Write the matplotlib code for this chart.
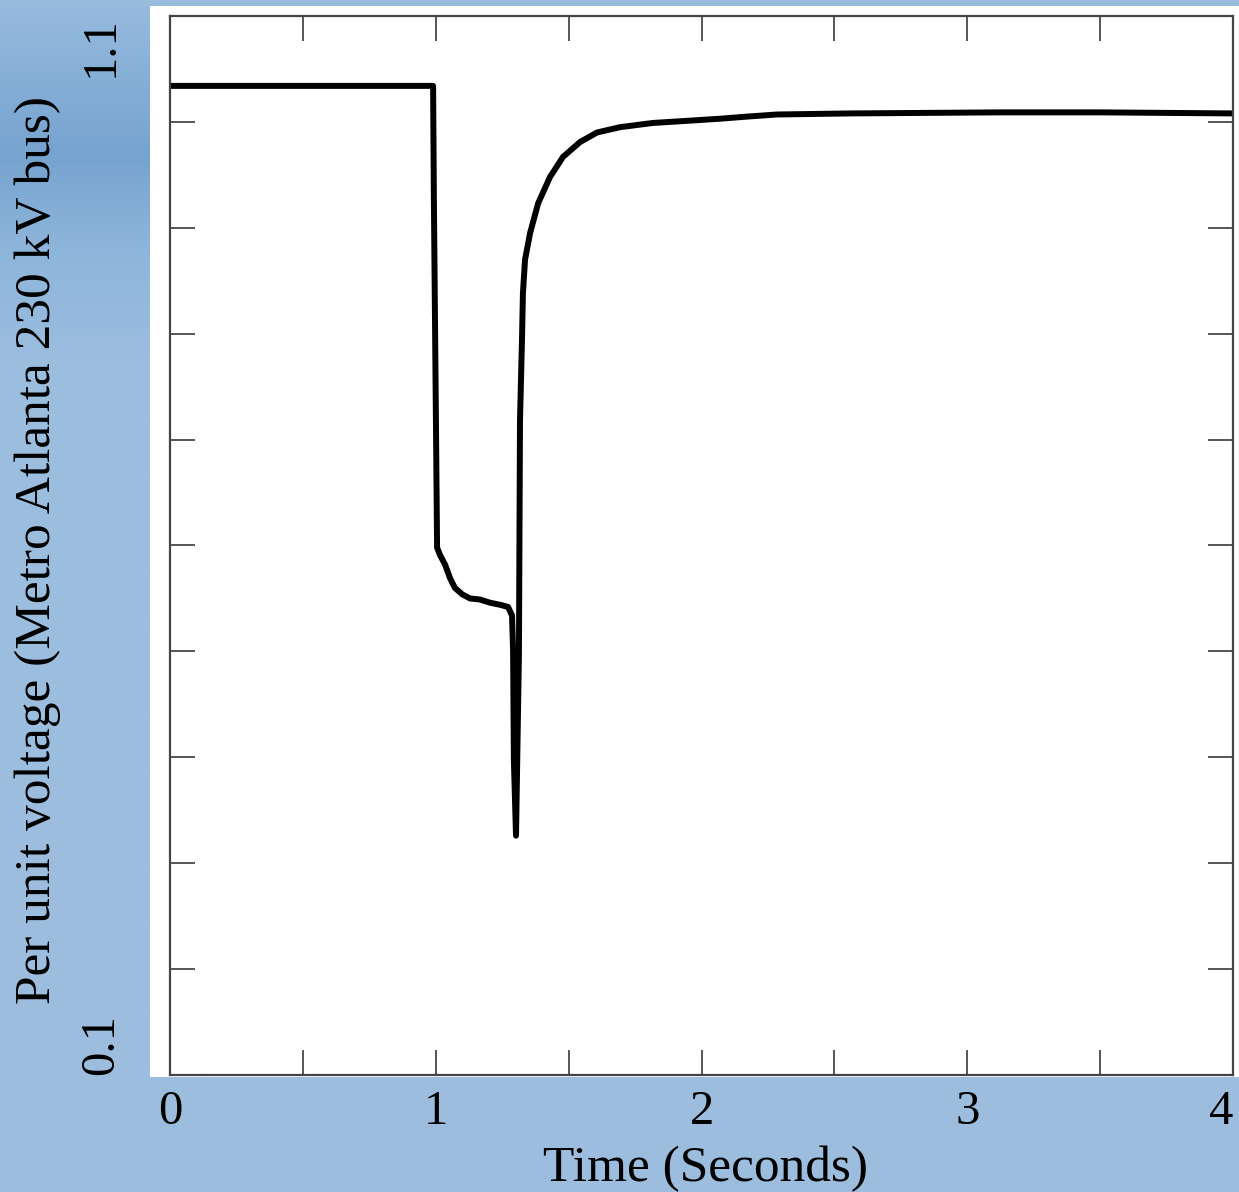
import numpy as np
import matplotlib
matplotlib.use("Agg")
import matplotlib.pyplot as plt
from matplotlib.patches import Rectangle

# ---- data ----
time_s = [0.0, 0.990, 0.993, 1.001, 1.005, 1.016, 1.035, 1.054, 1.072, 1.099,
          1.129, 1.166, 1.204, 1.242, 1.272, 1.287, 1.291, 1.294, 1.302, 1.313,
          1.317, 1.325, 1.328, 1.336, 1.355, 1.385, 1.430, 1.479, 1.543, 1.607,
          1.693, 1.817, 1.945, 2.069, 2.171, 2.284, 2.559, 3.123, 3.500, 4.0]
voltage_pu = [1.034, 1.034, 0.926, 0.709, 0.598, 0.591, 0.582, 0.569, 0.560, 0.554,
              0.550, 0.549, 0.546, 0.544, 0.542, 0.534, 0.501, 0.397, 0.326, 0.497,
              0.718, 0.800, 0.838, 0.870, 0.895, 0.923, 0.948, 0.967, 0.981, 0.990,
              0.995, 0.999, 1.001, 1.003, 1.005, 1.007, 1.008, 1.009, 1.009, 1.008]
x_ticks = [0, 1, 2, 3, 4]
x_minor = [0.5, 1.5, 2.5, 3.5]
y_ticks = [0.1, 1.1]
y_minor = [0.2, 0.3, 0.4, 0.5, 0.6, 0.7, 0.8, 0.9, 1.0]

W, H = 1239, 1192
DPI = 100
plt.rcParams['font.family'] = ['Liberation Serif', 'DejaVu Serif']

fig = plt.figure(figsize=(W / DPI, H / DPI), dpi=DPI)

# background gradient
bg = fig.add_axes([0, 0, 1, 1], zorder=-10)
rows = np.linspace(0, 1, 400)
stops_y = [0.0, 0.06, 0.13, 0.20, 0.30, 1.0]
stops_c = np.array([[152, 187, 222], [135, 176, 215], [118, 163, 207],
                    [140, 180, 218], [155, 189, 223], [157, 189, 222]]) / 255.0
grad = np.stack([np.interp(rows, stops_y, stops_c[:, k]) for k in range(3)], axis=-1)
grad = np.repeat(grad[:, None, :], 10, axis=1)
bg.imshow(grad, aspect='auto', extent=[0, 1, 0, 1], origin='upper')
bg.set_xlim(0, 1); bg.set_ylim(0, 1)
bg.axis('off')
# white plotting board
bg.add_patch(Rectangle((150 / W, 1 - 1077 / H), (W - 150) / W, (1077 - 6) / H,
                       facecolor='white', edgecolor='none'))

ax = fig.add_axes([170 / W, 1 - 1075 / H, (1233 - 170) / W, (1075 - 16) / H])
ax.set_facecolor('white')
ax.plot(time_s, voltage_pu, color='black', linewidth=4.3, solid_joinstyle='round',
        solid_capstyle='butt')
ax.set_xlim(0, 4)
ax.set_ylim(0.1, 1.1)

ax.set_xticks(x_ticks)
ax.set_xticks(x_minor, minor=True)
ax.set_yticks(y_ticks)
ax.set_yticks(y_minor, minor=True)
ax.set_yticklabels([str(v) for v in y_ticks], rotation=90)
for lab, va in zip(ax.get_yticklabels(), ['bottom', 'top']):
    lab.set_va(va)
ax.set_xticklabels([str(v) for v in x_ticks])
xl = ax.get_xticklabels()
xl[-1].set_ha('right')

tick_col = '#555555'
ax.tick_params(axis='both', which='both', direction='in', length=18, width=1.4,
               color=tick_col, top=True, right=True, labelsize=35, labelcolor='black')
ax.tick_params(axis='x', which='both', pad=11)
ax.tick_params(axis='y', which='both', pad=34)
for s in ax.spines.values():
    s.set_color('#444444')
    s.set_linewidth(1.6)

fig.text(705 / W, 1 - 1169 / H, 'Time (Seconds)', ha='center', va='center',
         fontsize=37, color='black')
fig.text(38 / W, 1 - 550 / H, 'Per unit voltage (Metro Atlanta 230 kV bus)',
         ha='center', va='center', rotation=90, fontsize=37, color='black')

fig.savefig('out.png', dpi=DPI)
